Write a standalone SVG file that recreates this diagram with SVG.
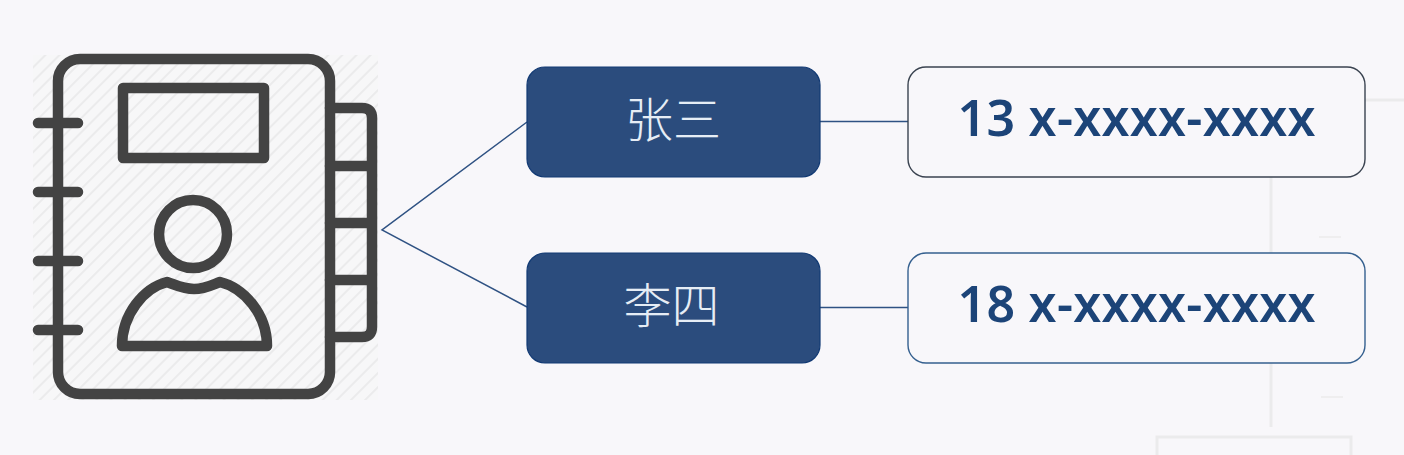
<svg xmlns="http://www.w3.org/2000/svg" width="1404" height="455" viewBox="0 0 1404 455">
<defs>
<pattern id="hatch" width="10" height="10" patternUnits="userSpaceOnUse" patternTransform="rotate(45)">
<rect width="10" height="10" fill="#f7f7f8"/>
<rect x="0" y="0" width="2" height="10" fill="#ebebec"/>
</pattern>
</defs>
<style>
.ic{fill:none;stroke:#434343;stroke-width:10.500;stroke-linejoin:round;stroke-linecap:round}
.ghost{fill:none;stroke:#ebebec;stroke-width:3}
.con{fill:none;stroke:#2f5283;stroke-width:1.5}
.dark{fill:#2b4c7d;stroke:#123a74;stroke-width:1.2}
.lite{fill:#f8f7fa;stroke-width:1.4}
.name{font-family:"Noto Sans CJK SC","Noto Sans",sans-serif;font-size:48px;font-weight:300;fill:#e6edf5;text-anchor:middle}
.tel{font-family:"Noto Sans","Open Sans",sans-serif;font-size:50px;font-weight:600;fill:#1c4478;text-anchor:middle}
</style>
<rect width="1404" height="455" fill="#f8f7fa"/>
<g id="background-traces">
<path class="ghost" d="M1365 100H1404M1271 177V253M1271 363V427M1157 455V437H1351V455"/>
<path class="ghost" d="M1319 237H1341M1321 397H1343" style="stroke-width:1.5"/>
</g>
<g id="icon">
<rect x="33" y="55" width="345" height="345" fill="url(#hatch)"/>
<rect class="ic" x="58" y="59" width="272" height="335" rx="22"/>
<path class="ic" d="M330 108H362Q372 108 372 118V327Q372 337 362 337H330M330 166H372M330 223H372M330 280H372"/>
<path class="ic" d="M38 123H78M38 192H78M38 261H78M38 330H78"/>
<rect class="ic" x="123" y="88" width="141" height="70"/>
<circle class="ic" cx="193" cy="234" r="34"/>
<path class="ic" d="M122 346C122 314 144 288 167 282C176 285 183 289 194 289C205 289 212 285 220 282C244 288 267 314 267 346Z"/>
</g>
<g id="connectors">
<path class="con" d="M527 122L382 230L527 307M820 121.500H908M820 307.500H908"/>
</g>
<g id="node-zhangsan">
<rect class="dark" x="527" y="67" width="293" height="110" rx="18"/>
<text class="name" x="673" y="137">张三</text>
</g>
<g id="node-lisi">
<rect class="dark" x="527" y="253" width="293" height="110" rx="18"/>
<text class="name" x="671.500" y="323">李四</text>
</g>
<g id="node-phone-1">
<rect class="lite" x="908" y="67" width="457" height="110" rx="18" stroke="#3a4350"/>
<text class="tel" x="1136.500" y="136" textLength="358" lengthAdjust="spacing">13 x-xxxx-xxxx</text>
</g>
<g id="node-phone-2">
<rect class="lite" x="908" y="253" width="457" height="110" rx="18" stroke="#35608f"/>
<text class="tel" x="1136.500" y="322" textLength="358" lengthAdjust="spacing">18 x-xxxx-xxxx</text>
</g>
</svg>
